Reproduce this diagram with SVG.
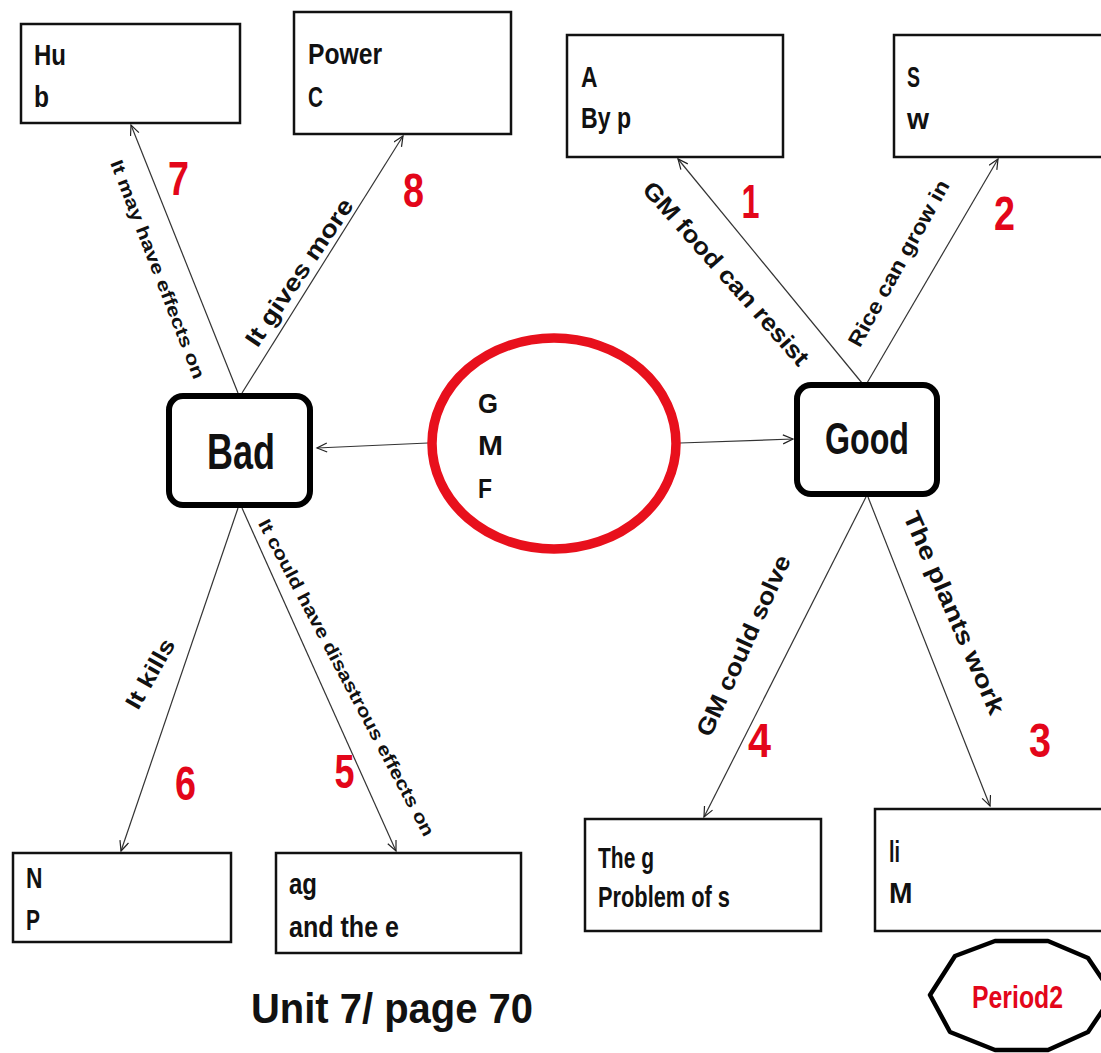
<svg xmlns="http://www.w3.org/2000/svg" width="1101" height="1053" viewBox="0 0 1101 1053">
<defs>
<marker id="ah" markerUnits="userSpaceOnUse" markerWidth="14" markerHeight="12" refX="11" refY="5" orient="auto">
<path d="M1,0.5 L11,5 L1,9.5" fill="none" stroke="#222" stroke-width="1.2"/>
</marker>
</defs>
<style>
.bg{fill:#fff}
.box{fill:#fff;stroke:#111;stroke-width:2.5}
.hub{fill:#fff;stroke:#000;stroke-width:6}
.t{font-family:'Liberation Sans Narrow','Liberation Sans',Arial,sans-serif;font-weight:bold;fill:#111}
.bt{font-size:29px}
.lb{fill:#111}
.num{font-family:'Liberation Sans Narrow','Liberation Sans',Arial,sans-serif;font-weight:bold;font-size:48px;fill:#e3061a;text-anchor:middle}
.ln{stroke:#333;stroke-width:1.2;fill:none;marker-end:url(#ah)}
</style>
<rect class="bg" x="0" y="0" width="1101" height="1053"/>

<g id="connectors">
<line class="ln" x1="238" y1="393" x2="131" y2="125"/>
<line class="ln" x1="242" y1="393" x2="403" y2="136"/>
<line class="ln" x1="862" y1="383" x2="678" y2="159"/>
<line class="ln" x1="867" y1="383" x2="998" y2="159"/>
<line class="ln" x1="428" y1="443" x2="317" y2="448"/>
<line class="ln" x1="680" y1="443" x2="793" y2="439"/>
<line class="ln" x1="238" y1="508" x2="121" y2="851"/>
<line class="ln" x1="242" y1="508" x2="396" y2="851"/>
<line class="ln" x1="866" y1="497" x2="704" y2="817"/>
<line class="ln" x1="868" y1="497" x2="990" y2="806"/>
<text class="t lb" font-size="18" text-anchor="middle" textLength="233" lengthAdjust="spacingAndGlyphs" x="152" y="271.5" transform="rotate(68.9 152 271.5)">It may have effects on</text>
<text class="t lb" font-size="24" text-anchor="middle" textLength="173" lengthAdjust="spacingAndGlyphs" x="306" y="277" transform="rotate(-55.8 306 277)">It gives more</text>
<text class="t lb" font-size="24" text-anchor="middle" textLength="237" lengthAdjust="spacingAndGlyphs" x="720" y="279" transform="rotate(48.4 720 279)">GM food can resist</text>
<text class="t lb" font-size="21" text-anchor="middle" textLength="187" lengthAdjust="spacingAndGlyphs" x="905" y="266.7" transform="rotate(-61 905 266.7)">Rice can grow in</text>
<text class="t lb" font-size="23" text-anchor="middle" textLength="77" lengthAdjust="spacingAndGlyphs" x="157" y="677.5" transform="rotate(-60.4 157 677.5)">It kills</text>
<text class="t lb" font-size="18" text-anchor="middle" textLength="356" lengthAdjust="spacingAndGlyphs" x="341" y="680.5" transform="rotate(62.1 341 680.5)">It could have disastrous effects on</text>
<text class="t lb" font-size="24" text-anchor="middle" textLength="196" lengthAdjust="spacingAndGlyphs" x="751" y="649" transform="rotate(-65.65 751 649)">GM could solve</text>
<text class="t lb" font-size="24" text-anchor="middle" textLength="219" lengthAdjust="spacingAndGlyphs" x="946.5" y="616" transform="rotate(66.4 946.5 616)">The plants work</text>
<text class="num" x="178.5" y="195" textLength="21" lengthAdjust="spacingAndGlyphs">7</text>
<text class="num" x="413.5" y="207" textLength="21" lengthAdjust="spacingAndGlyphs">8</text>
<text class="num" x="750.5" y="218" textLength="18" lengthAdjust="spacingAndGlyphs">1</text>
<text class="num" x="1004.5" y="230" textLength="21" lengthAdjust="spacingAndGlyphs">2</text>
<text class="num" x="185.5" y="800" textLength="21" lengthAdjust="spacingAndGlyphs">6</text>
<text class="num" x="344.5" y="788" textLength="20" lengthAdjust="spacingAndGlyphs">5</text>
<text class="num" x="759.5" y="757" textLength="23" lengthAdjust="spacingAndGlyphs">4</text>
<text class="num" x="1040" y="757" textLength="22" lengthAdjust="spacingAndGlyphs">3</text>
</g>

<g id="node-gmf">
<ellipse cx="554" cy="443.5" rx="122" ry="105.5" fill="#fff" stroke="#e8101c" stroke-width="9.5"/>
<text class="t" font-size="28" x="478" y="413" textLength="20" lengthAdjust="spacingAndGlyphs">G</text>
<text class="t" font-size="28" x="478" y="455" textLength="25" lengthAdjust="spacingAndGlyphs">M</text>
<text class="t" font-size="28" x="478" y="498" textLength="14" lengthAdjust="spacingAndGlyphs">F</text>
</g>

<g id="node-bad">
<rect class="hub" x="169" y="396" width="141" height="109" rx="14"/>
<text class="t" font-size="50" text-anchor="middle" textLength="68" lengthAdjust="spacingAndGlyphs" x="241" y="469">Bad</text>
</g>

<g id="node-good">
<rect class="hub" x="797" y="385" width="140" height="109" rx="14"/>
<text class="t" font-size="45" text-anchor="middle" textLength="84" lengthAdjust="spacingAndGlyphs" x="867" y="454">Good</text>
</g>

<g id="node-hu">
<rect class="box" x="21" y="24" width="219" height="99"/>
<text class="t bt" x="34" y="65" textLength="32" lengthAdjust="spacingAndGlyphs">Hu</text>
<text class="t bt" x="34" y="107" textLength="15" lengthAdjust="spacingAndGlyphs">b</text>
</g>

<g id="node-power">
<rect class="box" x="294" y="12" width="217" height="122"/>
<text class="t bt" x="308" y="64" textLength="74" lengthAdjust="spacingAndGlyphs">Power</text>
<text class="t bt" x="308" y="107" textLength="15" lengthAdjust="spacingAndGlyphs">C</text>
</g>

<g id="node-a">
<rect class="box" x="567" y="35" width="216" height="122"/>
<text class="t bt" x="581" y="87" textLength="16.5" lengthAdjust="spacingAndGlyphs">A</text>
<text class="t bt" x="581" y="128" textLength="50" lengthAdjust="spacingAndGlyphs">By p</text>
</g>

<g id="node-s">
<rect class="box" x="894" y="35" width="220" height="122"/>
<text class="t bt" x="907" y="87" textLength="13" lengthAdjust="spacingAndGlyphs">S</text>
<text class="t bt" x="907" y="129" textLength="22" lengthAdjust="spacingAndGlyphs">w</text>
</g>

<g id="node-n">
<rect class="box" x="13" y="853" width="218" height="89"/>
<text class="t bt" x="26" y="888" textLength="16.5" lengthAdjust="spacingAndGlyphs">N</text>
<text class="t bt" x="26" y="930" textLength="14" lengthAdjust="spacingAndGlyphs">P</text>
</g>

<g id="node-ag">
<rect class="box" x="276" y="853" width="245" height="100"/>
<text class="t bt" x="289" y="894" textLength="28" lengthAdjust="spacingAndGlyphs">ag</text>
<text class="t bt" x="289" y="937" textLength="110" lengthAdjust="spacingAndGlyphs">and the e</text>
</g>

<g id="node-theg">
<rect class="box" x="585" y="819" width="236" height="112"/>
<text class="t bt" x="598" y="868" textLength="56" lengthAdjust="spacingAndGlyphs">The g</text>
<text class="t bt" x="598" y="907" textLength="132" lengthAdjust="spacingAndGlyphs">Problem of s</text>
</g>

<g id="node-li">
<rect class="box" x="875" y="809" width="240" height="122"/>
<text class="t bt" x="889" y="862" textLength="11" lengthAdjust="spacingAndGlyphs">li</text>
<text class="t bt" x="889" y="903" textLength="23.5" lengthAdjust="spacingAndGlyphs">M</text>
</g>

<g id="node-period">
<polygon points="995,941 1048,941 1088,958 1113,995 1088,1032 1048,1050 995,1050 950,1032 930,995 955,956" fill="#fff" stroke="#000" stroke-width="4.5" stroke-linejoin="round"/>
<text class="t" font-size="31" x="972" y="1008" textLength="91" lengthAdjust="spacingAndGlyphs" style="fill:#e3061a">Period2</text>
</g>

<g id="title">
<text class="t" font-size="43" x="251" y="1023" textLength="282" lengthAdjust="spacingAndGlyphs">Unit 7/ page 70</text>
</g>
</svg>
